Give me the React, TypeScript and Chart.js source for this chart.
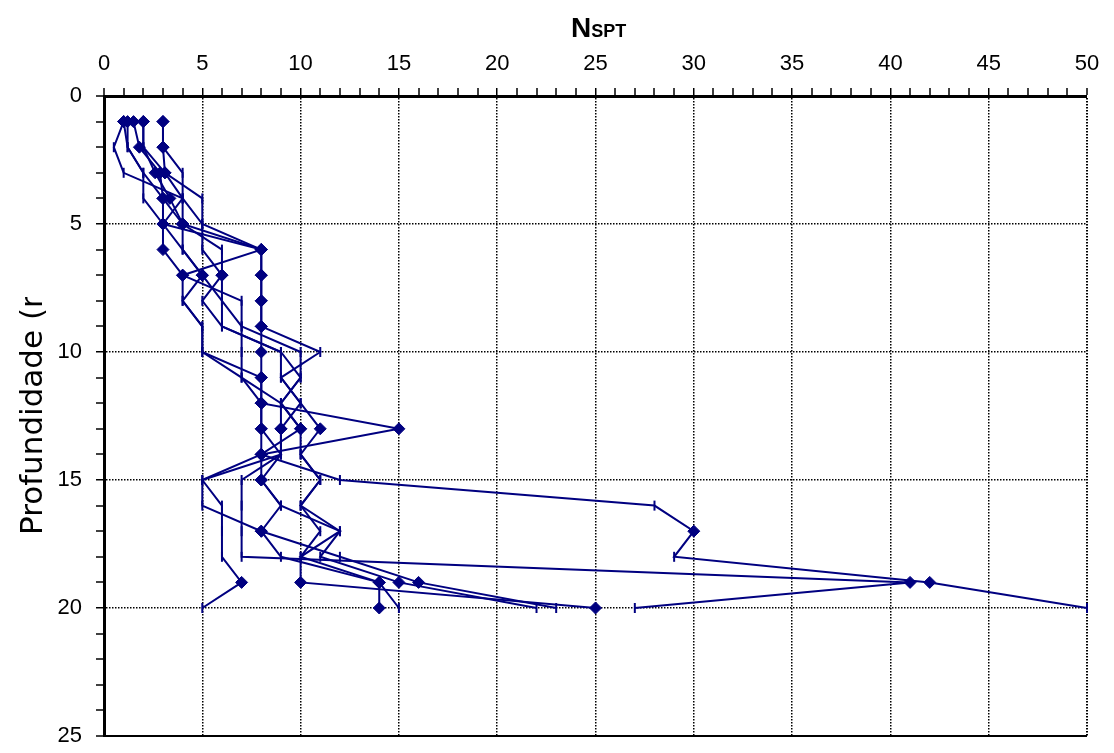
import React, { useEffect, useRef } from "react";
import { Chart, registerables } from "chart.js";

Chart.register(...registerables);

// Depth of each SPT reading (m)
const depths = [1, 2, 3, 4, 5, 6, 7, 8, 9, 10, 11, 12, 13, 14, 15, 16, 17, 18, 19, 20];

// N_SPT per borehole, one value per depth
const furoA = [3, 3, 3.1, 4, 5, 8, 8, 8, 8, 8, 8, 8, 15, 8, 12, 28, 30, 29, 42, 50];
const furoB = [1.5, 1.8, 2.85, 3, 4, 4, 5, 6, 7, 7, 7, 9, 9, 9, 7, 7, 7, 7, 41, 27];
const furoC = [2, 2, 2.6, 3.35, 4, 8, 8, 8, 8, 11, 9, 10, 11, 10, 11, 10, 11, 10, 10, 25];
const furoD = [1, 0.5, 1, 4, 3, 3, 4, 4, 5, 5, 8, 8, 8, 8, 5, 6, 6, 6, 7, 5];
const furoE = [1.2, 1.2, 2, 3, 3, 8, 4, 7, 7, 10, 10, 9, 10, 8, 8, 9, 8, 9, 14, 14];
const furoF = [2, 2, 3.1, 5, 5, 5, 6, 6, 6, 9, 9, 10, 9, 9, 8, 9, 12, 10, 14, 15];
const furoG = [3, 3, 4, 4, 4, 6, 6, 5, 6, 9, 10, 9, 10, 10, 11, 10, 12, 11, 15, 22];
const furoH = [1, 1.2, 2, 2, 3, 4, 5, 4, 5, 5, 7, 8, 8, 9, 5, 5, 8, 12, 16, 23];

// Marker per reading: D = diamond, L = short vertical dash
const marcasA = "DDDLLDDDDDDDDDLLDLDL";
const marcasB = "DDDDDLDLLLLLDLLLLLDL";
const marcasC = "DLDDDDDDDLLLDLLLLLDD";
const marcasD = "DLLLDDDLLLDDDDLLLLDL";
const marcasE = "DLLDDDDLLLLLDDDLDLDD";
const marcasF = "DLDLLLDLLLLLDLDLLLDL";
const marcasG = "DDLLDLDLLLLLDLLLLLDL";
const marcasH = "DLLLDLDLLLLDDLLLDLDL";

const xTicksMax = 50;
const yTicksMax = 25;

const NAVY = "#000080";
const ARIAL = '"Liberation Sans", Arial, Helvetica, sans-serif';

const furos = [
  { nome: "A", valores: furoA, marcas: marcasA },
  { nome: "B", valores: furoB, marcas: marcasB },
  { nome: "C", valores: furoC, marcas: marcasC },
  { nome: "D", valores: furoD, marcas: marcasD },
  { nome: "E", valores: furoE, marcas: marcasE },
  { nome: "F", valores: furoF, marcas: marcasF },
  { nome: "G", valores: furoG, marcas: marcasG },
  { nome: "H", valores: furoH, marcas: marcasH },
];

const titulosPlugin = {
  id: "titulos",
  afterDraw(chart: any) {
    const ctx: CanvasRenderingContext2D = chart.ctx;
    ctx.save();
    ctx.fillStyle = "#000";
    ctx.textAlign = "left";
    ctx.textBaseline = "alphabetic";

    // Axis title on top: N with SPT as small capitals
    ctx.font = `bold 28px ${ARIAL}`;
    const nW = ctx.measureText("N").width;
    const x0 = 563;
    ctx.fillText("N", x0, 29);
    ctx.font = `bold 18px ${ARIAL}`;
    ctx.fillText("SPT", x0 + nW, 29);

    // Vertical axis title, cut off by its box
    ctx.beginPath();
    ctx.rect(0, 289, 92, 500);
    ctx.clip();
    ctx.translate(34, 527);
    ctx.rotate(-Math.PI / 2);
    ctx.font = '31px "DejaVu Sans", Verdana, sans-serif';
    ctx.fillText("Profundidade (m)", 0, 0);
    ctx.restore();
  },
};

export default function App() {
  const ref = useRef<HTMLCanvasElement>(null);

  useEffect(() => {
    const canvas = ref.current;
    if (!canvas) return;

    const datasets = furos.map((f) => {
      const m = f.marcas.split("");
      return {
        label: f.nome,
        data: depths.map((d, i) => ({ x: f.valores[i], y: d })),
        showLine: true,
        borderColor: NAVY,
        backgroundColor: NAVY,
        borderWidth: 2,
        pointStyle: m.map((c) => (c === "D" ? "rectRot" : "line")),
        pointRadius: m.map((c) => (c === "D" ? 6 : 5)),
        pointRotation: m.map((c) => (c === "D" ? 0 : 90)),
        pointBorderWidth: m.map((c) => (c === "D" ? 1 : 2)),
        pointBackgroundColor: NAVY,
        pointBorderColor: NAVY,
        clip: false as any,
      };
    });

    const isMajor = (c: any) => c.tick && Math.round(c.tick.value) % 5 === 0;

    const chart = new Chart(canvas, {
      type: "scatter",
      data: { datasets: datasets as any },
      options: {
        responsive: false,
        animation: false,
        layout: { padding: { left: 0, top: 0, right: 19, bottom: 17 } },
        plugins: { legend: { display: false }, tooltip: { enabled: false } },
        scales: {
          x: {
            type: "linear",
            position: "top",
            min: 0,
            max: xTicksMax,
            afterFit: (s: any) => {
              s.height = 88;
              s.paddingLeft = 0;
              s.paddingRight = 0;
            },
            ticks: {
              stepSize: 1,
              maxTicksLimit: 100,
              autoSkip: false,
              maxRotation: 0,
              padding: 11,
              color: "#000",
              font: { family: ARIAL, size: 22 },
              callback: (v: any) => (Math.round(Number(v)) % 5 === 0 ? String(v) : ""),
            },
            grid: {
              color: "#000",
              lineWidth: (c: any) =>
                isMajor(c) && c.tick.value > 0 ? (c.tick.value === xTicksMax ? 2 : 1.5) : 0,
              tickLength: 8,
              tickWidth: 1.5,
              tickColor: "#000",
            },
            border: { display: true, color: "#000", width: 3, dash: [1.5, 1.5] },
          },
          y: {
            type: "linear",
            reverse: true,
            min: 0,
            max: yTicksMax,
            afterFit: (s: any) => {
              s.width = 96;
              s.paddingTop = 0;
              s.paddingBottom = 0;
            },
            ticks: {
              stepSize: 1,
              maxTicksLimit: 100,
              autoSkip: false,
              padding: 14,
              color: "#000",
              font: { family: ARIAL, size: 22 },
              callback: (v: any) => (Math.round(Number(v)) % 5 === 0 ? String(v) : ""),
            },
            grid: {
              color: "#000",
              lineWidth: (c: any) => (isMajor(c) && c.tick.value > 0 ? (c.tick.value === yTicksMax ? 2 : 1.5) : 0),
              tickLength: 8,
              tickWidth: 1.5,
              tickColor: "#000",
            },
            border: {
              display: true,
              color: "#000",
              width: 3,
              dash: (c: any) => (c.tick && c.tick.value === yTicksMax ? [] : [1.5, 1.5]),
            },
          },
        },
      },
      plugins: [titulosPlugin],
    });

    return () => chart.destroy();
  }, []);

  return <canvas ref={ref} width={1098} height={745} style={{ display: "block" }} />;
}
